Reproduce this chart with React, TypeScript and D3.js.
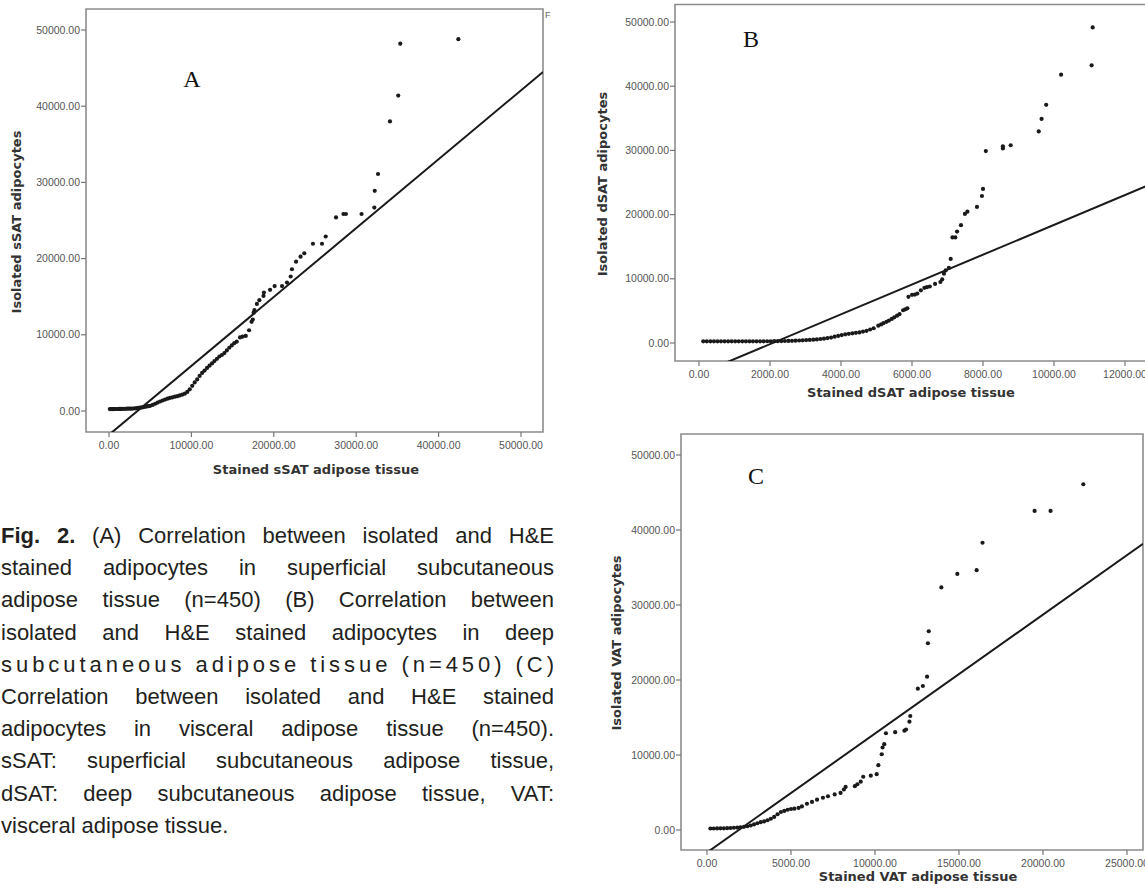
import React, { useRef, useEffect } from 'react';
import * as d3 from 'd3';

const W = 1145;
const H = 895;

// ---- data: [stained, isolated] ----
const pointsA = [
  [100, 250], [250, 250], [400, 250], [550, 250], [700, 260], [850, 260], [1000, 260], [1150, 265],
  [1300, 270], [1450, 275], [1600, 280], [1800, 285], [2000, 290], [2200, 300], [2400, 300],
  [2600, 310], [2800, 320], [3000, 330], [3200, 350], [3400, 380], [3600, 410], [3800, 440],
  [4000, 470], [4200, 520], [4400, 560], [4600, 600], [4800, 640], [5000, 680], [5300, 800],
  [5600, 950], [5900, 1100], [6200, 1250], [6500, 1380], [6800, 1500], [7100, 1620], [7400, 1720],
  [7700, 1800], [8000, 1880], [8300, 1950], [8600, 2050], [8900, 2150], [9200, 2280], [9500, 2500],
  [9800, 2850], [10100, 3300], [10400, 3750], [10700, 4150], [11000, 4600], [11300, 5000],
  [11600, 5300], [11900, 5650], [12200, 5950], [12500, 6250], [12800, 6550], [13100, 6850],
  [13400, 7150], [13700, 7350], [14000, 7600], [14300, 7950], [14600, 8300], [14900, 8600],
  [15200, 8900], [15500, 9100], [15900, 9650], [16200, 9750], [16600, 9850], [17000, 10600],
  [17300, 11700], [17450, 12000], [17550, 12900], [17650, 13250], [17950, 14050], [18250, 14550],
  [18750, 15100], [18800, 15550], [19550, 15900], [20100, 16400], [21000, 16400], [21600, 16850],
  [22050, 17650], [22200, 18600], [22700, 19600], [23250, 20250], [23700, 20700], [24750, 21950],
  [25850, 21950], [26300, 22900], [27550, 25400], [28450, 25850], [28750, 25850], [30650, 25850],
  [32200, 26700], [32250, 28900], [32650, 31100], [34100, 38000], [35100, 41400], [35350, 48200],
  [42400, 48800],
];

const pointsB = [
  [120, 260], [220, 260], [320, 260], [420, 260], [520, 260], [620, 260], [720, 260], [820, 260],
  [920, 260], [1020, 260], [1120, 260], [1220, 260], [1320, 260], [1420, 260], [1520, 260],
  [1620, 260], [1720, 265], [1820, 265], [1920, 270], [2020, 275], [2120, 280], [2220, 290],
  [2320, 300], [2420, 315], [2520, 330], [2620, 345], [2720, 360], [2820, 390], [2920, 420],
  [3020, 450], [3120, 480], [3220, 520], [3320, 560], [3420, 620], [3520, 680], [3620, 760],
  [3720, 850], [3820, 980], [3920, 1100], [4020, 1230], [4120, 1350], [4220, 1430], [4320, 1500],
  [4420, 1580], [4520, 1650], [4620, 1780], [4720, 1900], [4820, 2100], [4920, 2300], [5050, 2700],
  [5130, 2900], [5200, 3100], [5280, 3300], [5350, 3500], [5430, 3750], [5500, 4000], [5580, 4250],
  [5650, 4500], [5750, 5100], [5810, 5250], [5870, 5400], [5900, 7200], [6000, 7500], [6080, 7550],
  [6150, 7700], [6250, 8200], [6350, 8600], [6420, 8700], [6500, 8800], [6650, 9200], [6800, 9500],
  [6850, 9900], [6900, 10800], [6950, 11300], [7040, 11700], [7090, 13100], [7140, 16450],
  [7220, 16450], [7270, 17350], [7380, 18350], [7490, 20100], [7560, 20450], [7830, 21200],
  [7970, 22900], [8000, 24000], [8080, 29900], [8560, 30300], [8560, 30650], [8780, 30800],
  [9570, 32950], [9650, 34900], [9780, 37100], [10200, 41800], [11060, 43250], [11090, 49150],
];

const pointsC = [
  [200, 200], [400, 200], [600, 210], [800, 220], [1000, 230], [1200, 250], [1400, 270], [1600, 300],
  [1800, 330], [2000, 370], [2200, 420], [2400, 500], [2600, 600], [2800, 750], [3000, 900],
  [3200, 1050], [3400, 1150], [3600, 1300], [3800, 1500], [4000, 1750], [4200, 2100], [4400, 2400],
  [4600, 2550], [4800, 2700], [5000, 2800], [5200, 2850], [5450, 2950], [5650, 3150], [5950, 3500],
  [6250, 3750], [6550, 4050], [6900, 4300], [7200, 4500], [7600, 4750], [7950, 4950], [8150, 5400],
  [8250, 5750], [8800, 5850], [8950, 6100], [9150, 6450], [9300, 7100], [9750, 7250], [10100, 7450],
  [10200, 8650], [10400, 10100], [10450, 11000], [10550, 11450], [10650, 12900], [11200, 13050],
  [11750, 13250], [11850, 13400], [12050, 14450], [12100, 15200], [12550, 18850], [12850, 19200],
  [13100, 20450], [13150, 24900], [13200, 26500], [13950, 32350], [14900, 34150], [16050, 34650],
  [16400, 38300], [19500, 42550], [20450, 42550], [22400, 46100],
];

// fit lines: [slope, intercept]
const fitA = [0.904, -3120];
const fitB = [2.322, -4818];
const fitC = [1.586, -3000];

const yTicks = [0, 10000, 20000, 30000, 40000, 50000];
const xTicksA = [0, 10000, 20000, 30000, 40000, 50000];
const xTicksB = [0, 2000, 4000, 6000, 8000, 10000, 12000];
const xTicksC = [0, 5000, 10000, 15000, 20000, 25000];

const captionLines = [
  'Fig. 2. (A) Correlation between isolated and H&E',
  'stained adipocytes in superficial subcutaneous',
  'adipose tissue (n=450)  (B) Correlation between',
  'isolated and H&E stained adipocytes in deep',
  'subcutaneous adipose tissue (n=450) (C)',
  'Correlation between isolated and H&E stained',
  'adipocytes in visceral adipose tissue (n=450).',
  'sSAT: superficial subcutaneous adipose tissue,',
  'dSAT: deep subcutaneous adipose tissue, VAT:',
  'visceral adipose tissue.',
];

const panels = [
  {
    id: 'A', pts: pointsA, fit: fitA, xTicks: xTicksA, xMax: 50000,
    frame: { l: 86, t: 9, r: 543, b: 432 },
    xr: [109, 521], yr: [411, 30],
    letter: { x: 192, y: 87 },
    xTitle: 'Stained sSAT adipose tissue', xTitlePos: { x: 316, y: 474 },
    yTitle: 'Isolated sSAT adipocytes', yTitlePos: { x: 16, y: 222 },
  },
  {
    id: 'B', pts: pointsB, fit: fitB, xTicks: xTicksB, xMax: 12000,
    frame: { l: 675, t: 4.5, r: 1152, b: 361 },
    xr: [699, 1125], yr: [343, 22],
    letter: { x: 751, y: 47 },
    xTitle: 'Stained dSAT adipose tissue', xTitlePos: { x: 911, y: 397 },
    yTitle: 'Isolated dSAT adipocytes', yTitlePos: { x: 602, y: 184 },
  },
  {
    id: 'C', pts: pointsC, fit: fitC, xTicks: xTicksC, xMax: 25000,
    frame: { l: 681, t: 434, r: 1143, b: 850 },
    xr: [707, 1127], yr: [830, 455],
    letter: { x: 756, y: 484 },
    xTitle: 'Stained VAT adipose tissue', xTitlePos: { x: 918, y: 881 },
    yTitle: 'Isolated VAT adipocytes', yTitlePos: { x: 616, y: 643 },
  },
];

const fmt = (v: number) => v.toFixed(2);
const tickFont = '"Liberation Sans", Arial, sans-serif';
const titleFont = '"DejaVu Sans", sans-serif';

function Panel({ p }: { p: any }) {
  const x = d3.scaleLinear().domain([0, p.xMax]).range(p.xr);
  const y = d3.scaleLinear().domain([0, 50000]).range(p.yr);
  const { l, t, r, b } = p.frame;
  const x0 = x.invert(l);
  const x1 = x.invert(r);
  const fitLine = d3.line<number>()
    .x((v) => x(v))
    .y((v) => y(p.fit[0] * v + p.fit[1]));
  const clipId = `clip-${p.id}`;

  return (
    <g>
      <defs>
        <clipPath id={clipId}>
          <rect x={l} y={t} width={r - l} height={b - t} />
        </clipPath>
      </defs>
      <path
        d={`M${l},${t}H${r}V${b}H${l}Z`}
        fill="none" stroke="#8c8c8c" strokeWidth={1.6}
      />
      {yTicks.map((v) => (
        <g key={`y${v}`}>
          <line x1={l - 5} x2={l} y1={y(v)} y2={y(v)} stroke="#777" strokeWidth={1.2} />
          <text
            x={l - 6} y={y(v)} dy="0.35em" textAnchor="end"
            fontFamily={tickFont} fontSize={10.5} fill="#555"
          >{fmt(v)}</text>
        </g>
      ))}
      {p.xTicks.map((v: number) => (
        <g key={`x${v}`}>
          <line x1={x(v)} x2={x(v)} y1={b} y2={b + 5} stroke="#777" strokeWidth={1.2} />
          <text
            x={x(v)} y={b + 17} textAnchor="middle"
            fontFamily={tickFont} fontSize={10.5} fill="#555"
          >{fmt(v)}</text>
        </g>
      ))}
      <g clipPath={`url(#${clipId})`}>
        <path d={fitLine([x0, x1]) || ''} fill="none" stroke="#1a1a1a" strokeWidth={2} />
        {p.pts.map((d: number[], i: number) => (
          <circle key={i} cx={x(d[0])} cy={y(d[1])} r={2.1} fill="#1a1a1a" />
        ))}
      </g>
      <text
        x={p.letter.x} y={p.letter.y} textAnchor="middle"
        fontFamily='"Liberation Serif", "Times New Roman", serif' fontSize={24} fill="#111"
      >{p.id}</text>
      <text
        x={p.xTitlePos.x} y={p.xTitlePos.y} textAnchor="middle"
        fontFamily={titleFont} fontWeight="bold" fontSize={13} fill="#333"
      >{p.xTitle}</text>
      <text
        transform={`translate(${p.yTitlePos.x},${p.yTitlePos.y}) rotate(-90)`}
        textAnchor="middle" dy="0.35em"
        fontFamily={titleFont} fontWeight="bold" fontSize={13} fill="#333"
      >{p.yTitle}</text>
    </g>
  );
}

export default function App() {
  const capRef = useRef<SVGGElement>(null);

  useEffect(() => {
    const g = d3.select(capRef.current);
    g.selectAll('*').remove();
    const left = 1;
    const width = 553;
    const top = 543;
    const lead = 32.2;
    captionLines.forEach((line, i) => {
      const yy = top + i * lead;
      // the (C) line is letter-spaced in the original
      if (i === 4) {
        g.append('text')
          .attr('x', left).attr('y', yy)
          .attr('textLength', width).attr('lengthAdjust', 'spacing')
          .text(line);
        return;
      }
      const words = line.split(' ').filter(Boolean);
      const nodes = words.map((w, j) => {
        const tx = g.append('text').attr('y', yy).text(w);
        if (i === 0 && j < 2) tx.attr('font-weight', 'bold');
        return tx;
      });
      const widths = nodes.map((n) => (n.node() as SVGTextElement).getComputedTextLength());
      const last = i === captionLines.length - 1;
      const gap = last ? 6 : (width - d3.sum(widths)) / (words.length - 1);
      let cx = left;
      nodes.forEach((n, j) => {
        n.attr('x', cx);
        cx += widths[j] + gap;
      });
    });
  }, []);

  return (
    <div style={{ position: 'absolute', left: 0, top: 0 }}>
      <svg width={W} height={H} style={{ display: 'block', background: '#fff' }}>
        {panels.map((p) => <Panel key={p.id} p={p} />)}
        <text x={545} y={18} fontFamily={tickFont} fontSize={9} fill="#666">F</text>
        <g
          ref={capRef}
          fontFamily='"Liberation Sans", Arial, sans-serif'
          fontSize={22}
          fill="#231f20"
        />
      </svg>
    </div>
  );
}
